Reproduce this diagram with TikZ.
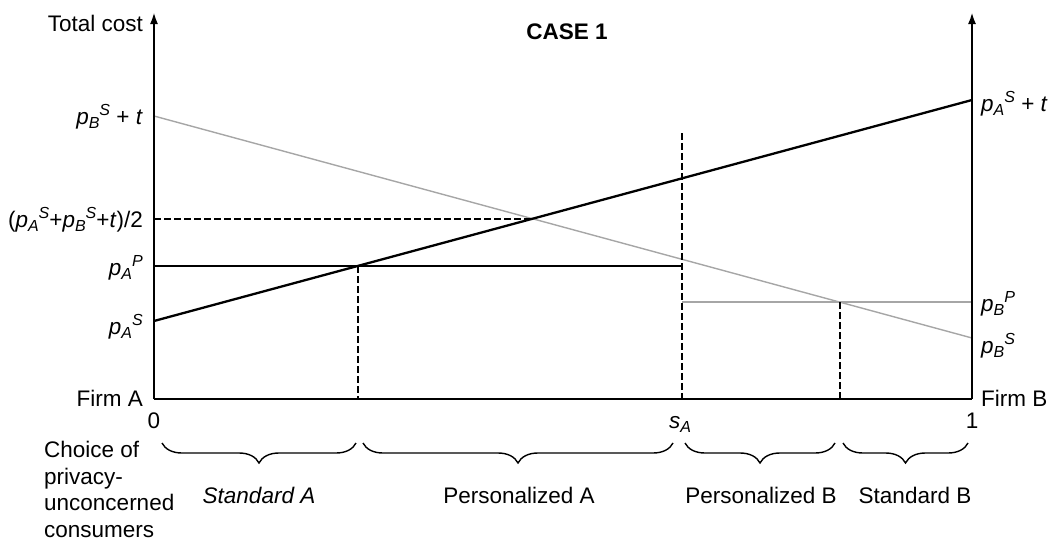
\documentclass[tikz,border=0pt]{standalone}
\usepackage{fontspec}
\setmainfont{Liberation Sans}
\usetikzlibrary{arrows.meta,decorations.pathreplacing}
\newcommand{\lo}[1]{\raisebox{-4pt}{\fontsize{16}{16}\selectfont\itshape #1}}
\newcommand{\hi}[1]{\raisebox{9pt}{\fontsize{16}{16}\selectfont\itshape #1}}
\newcommand{\pv}[2]{\textit{p}\lo{#1}\hi{#2}}
\tikzset{
  axisline/.style={line width=2.3pt,black},
  curveA/.style={line width=2.3pt,black},
  curveB/.style={line width=1.4pt,black!35},
  dashline/.style={line width=2.2pt,black,dash pattern=on 6.5pt off 3.5pt},
  bracket/.style={line width=1.4pt,decorate,decoration={brace,mirror,amplitude=20pt}},
  lbl/.style={inner sep=0pt,font=\fontsize{22.5}{26.7}\selectfont},
}
\begin{document}
\begin{tikzpicture}[x=1pt,y=-1pt]
\useasboundingbox (0,0) rectangle (1054,546);
% coordinates
\coordinate (O) at (154,399);
\coordinate (Ltop) at (154,12);
\coordinate (R) at (972,399);
\coordinate (Rtop) at (972,12);
\coordinate (gA0) at (154,116);
\coordinate (gA1) at (972,338);
\coordinate (bA0) at (154,321);
\coordinate (bA1) at (972,100);
\coordinate (M0) at (154,219);
\coordinate (Mx) at (533,219);
\coordinate (pAP0) at (154,266);
\coordinate (pAP1) at (682,266);
\coordinate (d1top) at (358,266);
\coordinate (d1bot) at (358,399);
\coordinate (sAtop) at (682,133);
\coordinate (sAbot) at (682,399);
\coordinate (pBP0) at (682,302);
\coordinate (pBP1) at (972,302);
\coordinate (d3top) at (840,302);
\coordinate (d3bot) at (840,399);
% gray (firm B) lines
\draw[curveB] (gA0) -- (gA1);
\draw[curveB] (pBP0) -- (pBP1);
% dashed lines
\draw[dashline] (M0) -- (Mx);
\draw[dashline] (d1top) -- (d1bot);
\draw[dashline] (sAtop) -- (sAbot);
\draw[dashline] (d3top) -- (d3bot);
% black (firm A) lines
\draw[curveA] (bA0) -- (bA1);
\draw[curveA] (pAP0) -- (pAP1);
% axes
\draw[axisline,-{Latex[length=12pt,width=8pt]}] (O) -- (Ltop);
\draw[axisline] (O) -- (R);
\draw[axisline,-{Latex[length=12pt,width=8pt]}] (R) -- (Rtop);
% labels
\node[lbl,anchor=east] (tc) at (143,23) {Total cost};
\node[lbl,anchor=center,font=\fontsize{22.5}{26.7}\selectfont\bfseries] (case) at (567,32) {CASE 1};
\node[lbl,anchor=east] (lBt) at (143,117) {\pv{B}{S} + \textit{t}};
\node[lbl,anchor=east] (lmid) at (143,220) {(\pv{A}{S}+\pv{B}{S}+\textit{t})/2};
\node[lbl,anchor=east] (lAP) at (143,268) {\pv{A}{P}};
\node[lbl,anchor=east] (lAS) at (143,327) {\pv{A}{S}};
\node[lbl,anchor=east] (firmA) at (143,398) {Firm A};
\node[lbl,anchor=west] (rAt) at (981,104) {\pv{A}{S} + \textit{t}};
\node[lbl,anchor=west] (rBP) at (981,304) {\pv{B}{P}};
\node[lbl,anchor=west] (rBS) at (981,346) {\pv{B}{S}};
\node[lbl,anchor=west] (firmB) at (981,398) {Firm B};
\node[lbl] (zero) at (154,421) {0};
\node[lbl] (sA) at (680,424) {\textit{s}\lo{A}};
\node[lbl] (one) at (972,421) {1};
% braces
\coordinate (b1s) at (162,443); \coordinate (b1e) at (356,443);
\coordinate (b2s) at (363,443); \coordinate (b2e) at (673,443);
\coordinate (b3s) at (685,443); \coordinate (b3e) at (835,443);
\coordinate (b4s) at (843,443); \coordinate (b4e) at (968,443);
\draw[bracket] (b1s) -- (b1e);
\draw[bracket] (b2s) -- (b2e);
\draw[bracket] (b3s) -- (b3e);
\draw[bracket] (b4s) -- (b4e);
\node[lbl] (stA) at (259,495) {\textit{Standard A}};
\node[lbl] (peA) at (519,495) {Personalized A};
\node[lbl] (peB) at (761,495) {Personalized B};
\node[lbl] (stB) at (915,495) {Standard B};
\node[lbl,anchor=north west,align=left] (choice) at (44,441) {Choice of\\privacy-\\unconcerned\\consumers};
\end{tikzpicture}
\end{document}
